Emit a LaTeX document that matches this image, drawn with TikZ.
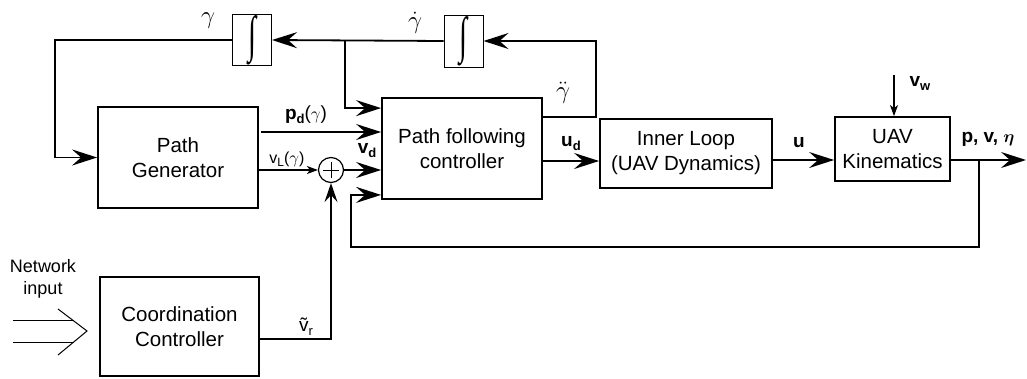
\documentclass[tikz,border=0pt]{standalone}
\usepackage{fontspec}
\usepackage{amsmath}
\usepackage{graphicx}
\setmainfont{Liberation Sans}
\newfontfamily\intfont{Liberation Serif}
\usetikzlibrary{arrows.meta,calc}
\newcommand{\lsub}[1]{\raisebox{-4pt}{\fontsize{13}{13}\selectfont #1}}
\newcommand{\bigint}{\resizebox{8pt}{36pt}{\intfont ∫}}
\begin{document}
\begin{tikzpicture}[x=1pt,y=-1pt,
  blk/.style={draw,line width=1.8pt,inner sep=0pt,align=center,font=\fontsize{20.5}{25}\selectfont},
  intg/.style={draw,line width=1pt,inner sep=0pt,minimum width=39pt,minimum height=51pt},
  conn/.style={line width=1.8pt},
  thinl/.style={line width=1.2pt},
  bigarr/.style={-{Stealth[length=25pt,width=16pt,inset=9pt]}},
  medarr/.style={-{Stealth[length=19pt,width=13pt,inset=7pt]}},
  smallarr/.style={-{Stealth[length=11pt,width=8pt,inset=3pt]}},
  lab/.style={inner sep=0pt,font=\fontsize{19}{22}\selectfont},
  glab/.style={inner sep=0pt,font=\fontsize{28}{28}\selectfont},
]
\useasboundingbox (0,0) rectangle (1027,378);

% blocks
\node[blk,minimum width=160pt,minimum height=101pt] (pg) at (178,157.5) {Path\\Generator};
\node[blk,minimum width=160pt,minimum height=101pt] (pf) at (462,148.5) {Path following\\controller};
\node[blk,minimum width=172pt,minimum height=69pt] (il) at (686,153.5) {Inner Loop\\(UAV Dynamics)};
\node[blk,minimum width=115pt,minimum height=64pt] (uk) at (892.5,149) {UAV\\Kinematics};
\node[blk,minimum width=159pt,minimum height=99pt] (cc) at (179.5,326.5) {Coordination\\Controller};
\node[draw,circle,line width=1.2pt,minimum size=25pt,inner sep=0pt] (sum) at (331,170) {};
\draw[line width=1pt] (sum.center) ++(-8,0) -- ++(16,0);
\draw[line width=1pt] (sum.center) ++(0,-8) -- ++(0,16);
\node[intg] (i1) at (252,40) {\bigint};
\node[intg,minimum height=52pt] (i2) at (463.5,41) {\bigint};

% helper coordinates
\coordinate (gdd) at (596,117);
\coordinate (jn) at (345,40);
\coordinate (tl) at (55,40);
\coordinate (pd0) at (261,132);
\coordinate (ud) at (542,161);
\coordinate (uy) at (0,160);
\coordinate (fb) at (979,160);
\coordinate (fbb) at (351,247);
\coordinate (out) at (1026,160);
\coordinate (vw) at (894,75);
\coordinate (cco) at (259,339);

% connectors
\draw[conn,bigarr] (pf.east |- gdd) -- (gdd) |- (i2.east);
\draw[conn,bigarr] (i2.west) -- (i1.east);
\draw[conn,bigarr] (i1.west) -- (tl) |- (pg.west);
\draw[conn,bigarr] (jn) |- ($(pf.north west)+(0,11)$);
\draw[conn,bigarr] (pd0) -- (pd0 -| pf.west);
\draw[thinl,smallarr] (pg.east |- sum) -- (sum.west);
\draw[conn,bigarr] (sum.east) -- (sum -| pf.west);
\draw[line width=1.5pt,medarr] (cco) -| (sum.south);
\draw[conn,bigarr] (pf.east |- ud) -- (ud -| il.west);
\draw[conn,bigarr] (il.east |- uy) -- (uk.west |- uy);
\draw[conn,bigarr] (uk.east |- uy) -- (out);
\draw[conn,bigarr] (fb) |- (fbb) |- ($(pf.south west)+(0,-5)$);
\draw[thinl,smallarr] (vw) -- (vw |- uk.north);

% network input
\node[inner sep=0pt,align=center,font=\fontsize{18}{22}\selectfont] (net) at (43,279) {Network\\input};
\draw[line width=1pt] (13,320) -- (74,320);
\draw[line width=1pt] (13,342) -- (74,342);
\draw[line width=1pt] (58,309) -- (87,331) -- (58,355);

% labels
\node[glab] at (208,21) {$\gamma$};
\node[glab] at (415,23) {$\dot\gamma$};
\node[glab] at (563,93) {$\ddot\gamma$};
\node[lab] at (306,115) {\textbf{p}{\bfseries\lsub{d}}($\gamma$)};
\node[lab,font=\fontsize{16}{16}\selectfont] at (287,159) {v\raisebox{-3pt}{\fontsize{12}{12}\selectfont L}($\gamma$)};
\node[lab] at (367,151) {\textbf{v}{\bfseries\lsub{d}}};
\node[lab] at (306,327) {\~{v}\lsub{r}};
\node[lab] at (571,144) {\textbf{u}{\bfseries\lsub{d}}};
\node[lab] at (799,143) {\textbf{u}};
\node[lab] at (920,83) {\textbf{v}{\bfseries\lsub{w}}};
\node[lab] at (988,139) {\textbf{p, v,} $\boldsymbol{\eta}$};
\end{tikzpicture}
\end{document}
